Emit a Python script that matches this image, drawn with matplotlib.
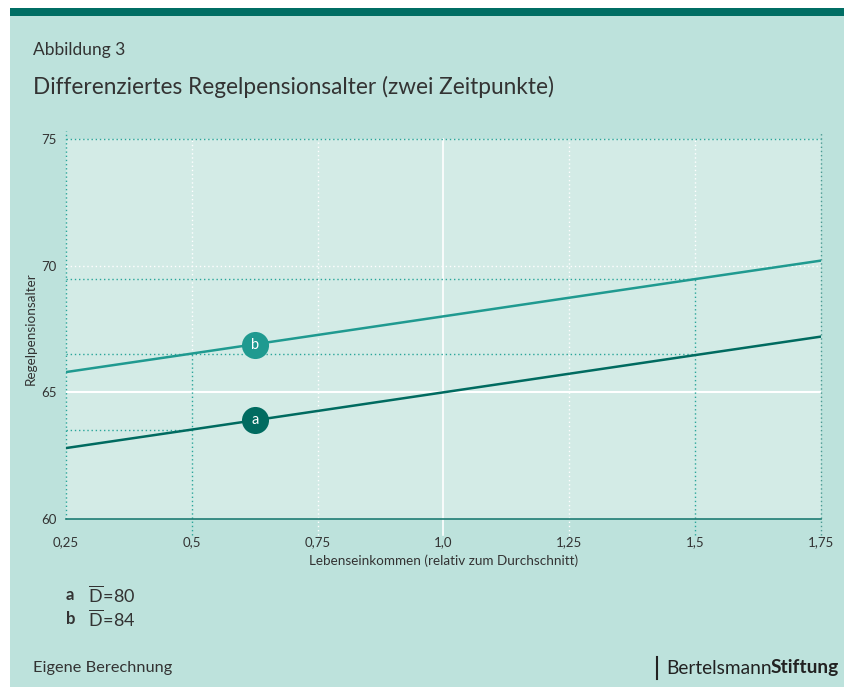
import matplotlib
matplotlib.use("Agg")
import matplotlib.pyplot as plt
from matplotlib.lines import Line2D
from matplotlib.patches import Rectangle

plt.rcParams['font.family'] = ['Lato', 'DejaVu Sans']
plt.rcParams['mathtext.fontset'] = 'custom'
plt.rcParams['mathtext.rm'] = 'Lato'
plt.rcParams['mathtext.it'] = 'Lato:italic'
plt.rcParams['mathtext.bf'] = 'Lato:bold'

# Data
income = [0.25, 0.5, 1.0, 1.5, 1.75]
age_a = [62.8, 63.53, 65.0, 66.47, 67.2]   # D = 80
age_b = [65.8, 66.53, 68.0, 69.47, 70.2]   # D = 84
x_ticks = [0.25, 0.5, 0.75, 1.0, 1.25, 1.5, 1.75]
x_tick_labels = ['0,25', '0,5', '0,75', '1,0', '1,25', '1,5', '1,75']
y_ticks = [60, 65, 70, 75]
label_x = 0.625
label_a_y = 63.9
label_b_y = 66.85

BG = '#bde2dc'
PLOT_BG = '#d3ebe6'
DARK = '#006b60'
LIGHT = '#1f9a90'
DOT = '#2aa59a'
TEXT = '#333333'

W, H = 845, 687
fig = plt.figure(figsize=(W / 100, H / 100), dpi=100)
fig.patch.set_facecolor('white')
# teal panel, dark band at top
fig.add_artist(Rectangle((10 / W, 0), 1 - 10 / W, 1 - 16 / H, transform=fig.transFigure,
                         facecolor=BG, edgecolor='none', zorder=0))
fig.add_artist(Rectangle((10 / W, 1 - 16 / H), 1 - 10 / W, 8 / H, transform=fig.transFigure,
                         facecolor='#006e64', edgecolor='none', zorder=0))

left, right, top, bottom = 66, 821, 139, 519
ax = fig.add_axes([left / W, 1 - bottom / H, (right - left) / W, (bottom - top) / H])
ax.set_facecolor(PLOT_BG)
ax.set_xlim(0.25, 1.75)
ax.set_ylim(60, 75)
for s in ['top', 'left', 'right']:
    ax.spines[s].set_visible(False)
ax.spines['bottom'].set_color('#1f7d74')
ax.spines['bottom'].set_linewidth(1.2)
ax.spines['bottom'].set_zorder(3)

ext = 59.35  # gridlines poke slightly below the axis
wdot = dict(color='white', ls=(0, (1, 2)), lw=1.0, zorder=1, clip_on=False)
for xv in [0.75, 1.25]:
    ax.plot([xv, xv], [ext, 75], **wdot)
ax.plot([0.5, 0.5], [age_b[1], 75], **wdot)
ax.plot([1.5, 1.5], [age_b[3], 75], **wdot)
ax.plot([1.0, 1.0], [ext, 75], color='white', lw=1.2, zorder=1, clip_on=False)
ax.axhline(65, color='white', lw=1.5, zorder=1)
ax.axhline(70, color='white', ls=(0, (1, 2)), lw=1.0, zorder=1)
ax.axhline(75, color=DOT, ls=(0, (1, 2)), lw=1.0, zorder=2, clip_on=False)
ax.plot([0.25, 0.25], [60, 75.3], color=DOT, ls=(0, (1, 2)), lw=1.0, zorder=2, clip_on=False)
ax.plot([1.75, 1.75], [ext, 75.3], color='#4a9a92', ls=(0, (1, 2)), lw=1.0, zorder=2, clip_on=False)

# reference dotted lines
ref = dict(color=DOT, ls=(0, (1, 2)), lw=1.0, zorder=2)
ax.plot([0.25, 0.5], [age_a[1], age_a[1]], **ref)
ax.plot([0.25, 1.5], [age_b[1], age_b[1]], **ref)
ax.plot([0.25, 1.5], [age_b[3], age_b[3]], **ref)
ax.plot([0.5, 0.5], [ext, age_b[1]], clip_on=False, **ref)
ax.plot([1.5, 1.5], [ext, age_b[3]], clip_on=False, **ref)

ax.plot(income, age_a, color=DARK, lw=1.8, zorder=3)
ax.plot(income, age_b, color=LIGHT, lw=1.8, zorder=3)

ax.scatter([label_x], [label_a_y], s=380, color=DARK, zorder=4, linewidths=0)
ax.scatter([label_x], [label_b_y], s=380, color=LIGHT, zorder=4, linewidths=0)
ax.text(label_x, label_a_y, 'a', color='white', ha='center', va='center', fontsize=10.5, zorder=5)
ax.text(label_x, label_b_y, 'b', color='white', ha='center', va='center', fontsize=10.5, zorder=5)

ax.set_xticks(x_ticks)
ax.set_xticklabels(x_tick_labels)
ax.set_yticks(y_ticks)
ax.tick_params(axis='both', length=0, labelsize=9.5, colors=TEXT)
ax.tick_params(axis='x', pad=12)
ax.tick_params(axis='y', pad=7)
ax.set_xlabel('Lebenseinkommen (relativ zum Durchschnitt)', fontsize=9.7, color=TEXT, labelpad=5)
ax.set_ylabel('Regelpensionsalter', fontsize=9.7, color=TEXT, labelpad=3)

# texts
def ft(x, y, s, **kw):
    fig.text(x / W, 1 - y / H, s, color=TEXT, va='center', **kw)

ft(33, 50, 'Abbildung 3', fontsize=12.5)
ft(33, 87, 'Differenziertes Regelpensionsalter (zwei Zeitpunkte)', fontsize=16.3)
ft(66, 595, 'a', fontsize=12, fontweight='bold')
ft(66, 619, 'b', fontsize=12, fontweight='bold')
ft(88, 595, r'$\overline{\mathrm{D}}\!=\!\mathrm{80}$', fontsize=13)
ft(88, 619, r'$\overline{\mathrm{D}}\!=\!\mathrm{84}$', fontsize=13)
ft(33, 668, 'Eigene Berechnung', fontsize=11.8)
fig.add_artist(Line2D([657 / W, 657 / W], [1 - 657 / H, 1 - 679 / H], color='#222222', lw=1.5))
t1 = fig.text(666 / W, 1 - 668 / H, 'Bertelsmann', fontsize=13.8, color='#222222', va='center')
fig.canvas.draw()
bb = t1.get_window_extent()
fig.text((bb.x1 - 1) / W, 1 - 668 / H, 'Stiftung', fontsize=13.8, color='#222222', va='center',
         fontweight='bold')

fig.savefig('out.png', dpi=100)
